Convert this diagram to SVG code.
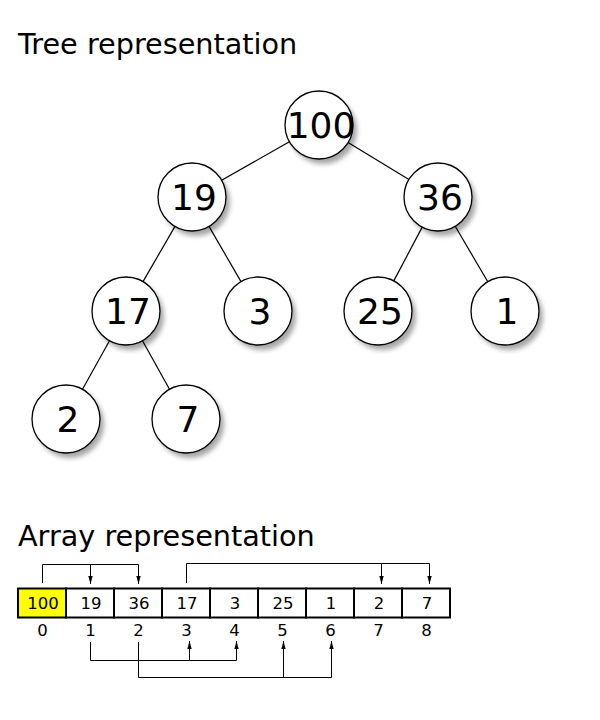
<svg xmlns="http://www.w3.org/2000/svg" width="600" height="720" viewBox="0 0 600 720">
<style>
.title{font-family:"DejaVu Sans",sans-serif;font-size:28.7px;fill:#000}
.node circle.c{fill:#fff;stroke:#000;stroke-width:1.3}
.node circle.s{fill:#000;opacity:0.35;filter:url(#blur)}
.node text{font-family:"DejaVu Sans",sans-serif;font-size:36px;text-anchor:middle;fill:#000}
.edge{stroke:#000;stroke-width:1.2;fill:none}
.cell rect{fill:#fff;stroke:#000;stroke-width:2}
.cell text{font-family:"DejaVu Sans",sans-serif;font-size:16.5px;text-anchor:middle;fill:#000}
.idx{font-family:"DejaVu Sans",sans-serif;font-size:16.5px;text-anchor:middle;fill:#000}
.link{stroke:#000;stroke-width:1;fill:none}
</style>
<defs>
<filter id="blur" x="-30%" y="-30%" width="160%" height="160%"><feGaussianBlur stdDeviation="2.5"/></filter>
<marker id="arr" viewBox="0 0 8 8" refX="8" refY="4" markerWidth="8" markerHeight="8" markerUnits="userSpaceOnUse" orient="auto"><path d="M0,1.8 L8,4 L0,6.2 z" fill="#000"/></marker>
</defs>
<rect width="600" height="720" fill="#fff"/>
<text class="title" x="18" y="54">Tree representation</text>
<text class="title" x="18" y="546">Array representation</text>
<g id="edges">
<line class="edge" x1="289.4" y1="141.8" x2="221.6" y2="180.2"/>
<line class="edge" x1="348.1" y1="142.6" x2="408.9" y2="179.4"/>
<line class="edge" x1="175" y1="226.4" x2="143" y2="281.6"/>
<line class="edge" x1="209" y1="226.4" x2="241" y2="281.6"/>
<line class="edge" x1="422.2" y1="227.1" x2="393.8" y2="280.9"/>
<line class="edge" x1="455.2" y1="226.3" x2="487.8" y2="281.7"/>
<line class="edge" x1="109.5" y1="340.7" x2="82.5" y2="389.3"/>
<line class="edge" x1="142.5" y1="340.7" x2="169.5" y2="389.3"/>
</g>
<g id="n100" class="node"><circle class="s" cx="323" cy="130" r="34"/><circle class="c" cx="319" cy="125" r="34"/><text x="321" y="138">100</text></g>
<g id="n19" class="node"><circle class="s" cx="196" cy="202" r="34"/><circle class="c" cx="192" cy="197" r="34"/><text x="194" y="210">19</text></g>
<g id="n36" class="node"><circle class="s" cx="442" cy="202" r="34"/><circle class="c" cx="438" cy="197" r="34"/><text x="440" y="210">36</text></g>
<g id="n17" class="node"><circle class="s" cx="130" cy="316" r="34"/><circle class="c" cx="126" cy="311" r="34"/><text x="128" y="324">17</text></g>
<g id="n3" class="node"><circle class="s" cx="262" cy="316" r="34"/><circle class="c" cx="258" cy="311" r="34"/><text x="260" y="324">3</text></g>
<g id="n25" class="node"><circle class="s" cx="382" cy="316" r="34"/><circle class="c" cx="378" cy="311" r="34"/><text x="380" y="324">25</text></g>
<g id="n1" class="node"><circle class="s" cx="509" cy="316" r="34"/><circle class="c" cx="505" cy="311" r="34"/><text x="507" y="324">1</text></g>
<g id="n2" class="node"><circle class="s" cx="70" cy="424" r="34"/><circle class="c" cx="66" cy="419" r="34"/><text x="68" y="432">2</text></g>
<g id="n7" class="node"><circle class="s" cx="190" cy="424" r="34"/><circle class="c" cx="186" cy="419" r="34"/><text x="188" y="432">7</text></g>
<g id="array">
<g id="c0" class="cell"><rect x="18" y="588.5" width="48" height="29" style="fill:#ffff00"/><text x="43" y="609.3">100</text></g>
<g id="c1" class="cell"><rect x="66" y="588.5" width="48" height="29"/><text x="91" y="609.3">19</text></g>
<g id="c2" class="cell"><rect x="114" y="588.5" width="48" height="29"/><text x="139" y="609.3">36</text></g>
<g id="c3" class="cell"><rect x="162" y="588.5" width="48" height="29"/><text x="187" y="609.3">17</text></g>
<g id="c4" class="cell"><rect x="210" y="588.5" width="48" height="29"/><text x="235" y="609.3">3</text></g>
<g id="c5" class="cell"><rect x="258" y="588.5" width="48" height="29"/><text x="283" y="609.3">25</text></g>
<g id="c6" class="cell"><rect x="306" y="588.5" width="48" height="29"/><text x="331" y="609.3">1</text></g>
<g id="c7" class="cell"><rect x="354" y="588.5" width="48" height="29"/><text x="379" y="609.3">2</text></g>
<g id="c8" class="cell"><rect x="402" y="588.5" width="48" height="29"/><text x="427" y="609.3">7</text></g>
</g>
<g id="indices">
<text class="idx" x="42.5" y="635.8">0</text>
<text class="idx" x="90.5" y="635.8">1</text>
<text class="idx" x="138.5" y="635.8">2</text>
<text class="idx" x="186.5" y="635.8">3</text>
<text class="idx" x="234.5" y="635.8">4</text>
<text class="idx" x="282.5" y="635.8">5</text>
<text class="idx" x="330.5" y="635.8">6</text>
<text class="idx" x="378.5" y="635.8">7</text>
<text class="idx" x="426.5" y="635.8">8</text>
</g>
<g id="connectors">
<polyline class="link" points="42.5,583 42.5,564.5 138.5,564.5"/>
<line class="link" x1="90.5" y1="564.5" x2="90.5" y2="584" marker-end="url(#arr)"/>
<line class="link" x1="138.5" y1="564.5" x2="138.5" y2="584" marker-end="url(#arr)"/>
<polyline class="link" points="186.5,583 186.5,563.5 429.5,563.5"/>
<line class="link" x1="381.5" y1="563.5" x2="381.5" y2="584" marker-end="url(#arr)"/>
<line class="link" x1="429.5" y1="563.5" x2="429.5" y2="584" marker-end="url(#arr)"/>
<polyline class="link" points="90.5,642 90.5,660.5 236.5,660.5"/>
<line class="link" x1="189.5" y1="660.5" x2="189.5" y2="641" marker-end="url(#arr)"/>
<line class="link" x1="236.5" y1="660.5" x2="236.5" y2="641" marker-end="url(#arr)"/>
<polyline class="link" points="138.5,642 138.5,677.5 331.5,677.5"/>
<line class="link" x1="283.5" y1="677.5" x2="283.5" y2="641" marker-end="url(#arr)"/>
<line class="link" x1="331.5" y1="677.5" x2="331.5" y2="641" marker-end="url(#arr)"/>
</g>
</svg>
